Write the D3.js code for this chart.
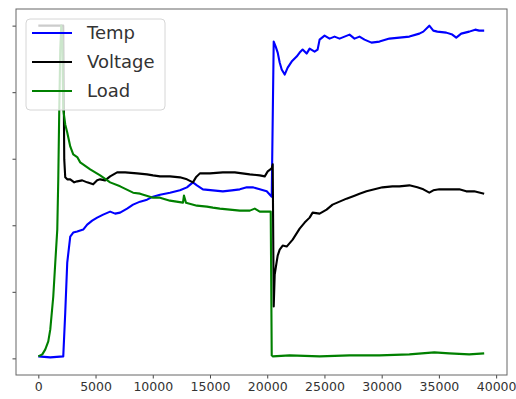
<!DOCTYPE html>
<html>
<head>
<meta charset="utf-8">
<script src="https://cdn.jsdelivr.net/npm/d3@7"></script>
<style>
  html, body { margin: 0; padding: 0; background: #fff; }
  svg { display: block; }
  text { font-family: "DejaVu Sans", sans-serif; }
</style>
</head>
<body>
<svg id="chart" width="516" height="399"></svg>
<script>
// Sample index (x) and normalised readings (y) for each channel
const tempTime = [0, 1046, 2179, 2353, 2527, 2789, 3050, 3399, 3922, 4270, 4706, 5142, 5665, 6275, 6711, 7146, 7756, 8279, 8889, 9499, 10022, 10632, 11504, 12375, 12986, 13508, 13857, 14380, 15251, 16123, 16907, 17604, 18214, 18737, 19347, 19957, 20393, 20567, 20741, 20915, 21089, 21264, 21525, 21787, 22135, 22571, 22833, 23094, 23443, 23705, 24140, 24402, 24577, 25012, 25448, 25884, 26320, 26755, 27191, 27627, 28063, 28499, 29109, 29805, 30677, 31548, 32420, 33291, 33640, 34162, 34511, 34860, 35645, 36168, 36516, 36952, 37649, 38172, 38520, 38956];
const tempValues = [0.006, 0.003, 0.006, 0.138, 0.288, 0.366, 0.378, 0.381, 0.387, 0.402, 0.414, 0.423, 0.432, 0.441, 0.435, 0.438, 0.450, 0.462, 0.471, 0.477, 0.486, 0.492, 0.498, 0.505, 0.514, 0.529, 0.520, 0.508, 0.505, 0.502, 0.505, 0.508, 0.514, 0.514, 0.508, 0.502, 0.486, 0.952, 0.937, 0.919, 0.889, 0.868, 0.853, 0.874, 0.892, 0.907, 0.919, 0.928, 0.916, 0.931, 0.922, 0.928, 0.958, 0.970, 0.961, 0.967, 0.961, 0.967, 0.973, 0.961, 0.967, 0.958, 0.949, 0.952, 0.961, 0.964, 0.967, 0.976, 0.982, 1.000, 0.985, 0.982, 0.979, 0.973, 0.964, 0.976, 0.982, 0.988, 0.985, 0.985];

const voltageTime = [0, 1046, 2179, 2266, 2353, 2527, 2789, 3137, 3399, 3835, 4270, 4793, 5142, 5403, 5839, 6275, 6885, 7582, 8628, 9499, 10022, 10632, 11504, 12375, 12986, 13508, 13770, 14118, 14990, 16123, 17168, 18476, 19347, 19783, 20044, 20393, 20480, 20567, 20654, 20829, 20915, 21089, 21351, 21700, 22223, 22833, 23269, 23705, 23966, 24577, 25187, 25710, 26320, 26930, 27627, 28063, 28673, 29370, 30067, 30939, 31548, 32420, 33117, 33640, 34162, 34511, 35034, 35906, 36778, 37388, 38085, 38956];
const voltageValues = [1.0, 1.0, 1.0, 0.598, 0.544, 0.538, 0.538, 0.529, 0.532, 0.535, 0.529, 0.523, 0.535, 0.538, 0.535, 0.547, 0.559, 0.559, 0.556, 0.553, 0.550, 0.547, 0.547, 0.544, 0.538, 0.529, 0.544, 0.556, 0.556, 0.559, 0.559, 0.553, 0.550, 0.547, 0.562, 0.571, 0.583, 0.156, 0.252, 0.291, 0.309, 0.327, 0.339, 0.336, 0.357, 0.390, 0.408, 0.423, 0.438, 0.435, 0.447, 0.462, 0.471, 0.480, 0.489, 0.495, 0.502, 0.508, 0.514, 0.517, 0.517, 0.520, 0.514, 0.508, 0.498, 0.505, 0.508, 0.508, 0.508, 0.502, 0.502, 0.495];

const loadTime = [0, 349, 610, 871, 1046, 1307, 1482, 1656, 1743, 1830, 1917, 2004, 2092, 2179, 2353, 2527, 2789, 3050, 3399, 3660, 4532, 5403, 6275, 7146, 8279, 8889, 10022, 10632, 11504, 12637, 12724, 12898, 13857, 14728, 15251, 15861, 16733, 17604, 18476, 18911, 19347, 19870, 20306, 20393, 20480, 21962, 24577, 27191, 29805, 32420, 34598, 35906, 37649, 38956];
const loadValues = [0.006, 0.012, 0.027, 0.051, 0.087, 0.186, 0.288, 0.387, 0.538, 0.748, 0.928, 1.0, 0.958, 0.748, 0.703, 0.679, 0.637, 0.613, 0.605, 0.589, 0.568, 0.550, 0.529, 0.517, 0.498, 0.495, 0.483, 0.483, 0.474, 0.468, 0.489, 0.468, 0.459, 0.456, 0.453, 0.450, 0.447, 0.444, 0.444, 0.450, 0.441, 0.441, 0.441, 0.009, 0.006, 0.009, 0.006, 0.009, 0.009, 0.012, 0.018, 0.015, 0.012, 0.015];

const seriesNames = ["Temp", "Voltage", "Load"];
const xTicks = [0, 5000, 10000, 15000, 20000, 25000, 30000, 35000, 40000];
const yTicks = [0, 0.2, 0.4, 0.6, 0.8, 1.0];

const series = [
  { name: seriesNames[0], t: tempTime, v: tempValues, color: "#0000ff" },
  { name: seriesNames[1], t: voltageTime, v: voltageValues, color: "#000000" },
  { name: seriesNames[2], t: loadTime, v: loadValues, color: "#008000" }
];

const svg = d3.select("#chart");
const plot = { left: 16, top: 9, right: 507, bottom: 375 };

const x = d3.scaleLinear().domain([-1950, 40950]).range([plot.left, plot.right]);
const y = d3.scaleLinear().domain([-0.05, 1.05]).range([plot.bottom, plot.top]);

// axes
const xAxis = svg.append("g")
  .attr("transform", `translate(0,${plot.bottom})`)
  .call(d3.axisBottom(x).tickValues(xTicks).tickFormat(d3.format("d")).tickSize(3.5).tickPadding(4));
xAxis.select(".domain").remove();
xAxis.selectAll("line").attr("stroke", "#444");
xAxis.selectAll("text").attr("font-size", 12.5).attr("fill", "#333")
  .attr("font-family", "DejaVu Sans, sans-serif");

const yAxis = svg.append("g")
  .attr("transform", `translate(${plot.left},0)`)
  .call(d3.axisLeft(y).tickValues(yTicks).tickFormat("").tickSize(3.5));
yAxis.select(".domain").remove();
yAxis.selectAll("line").attr("stroke", "#444");

// lines
svg.append("clipPath").attr("id", "plotclip")
  .append("rect")
  .attr("x", plot.left).attr("y", plot.top)
  .attr("width", plot.right - plot.left).attr("height", plot.bottom - plot.top);

const line = d3.line().x(d => x(d[0])).y(d => y(d[1]));
const lines = svg.append("g").attr("clip-path", "url(#plotclip)");
series.forEach(s => {
  lines.append("path")
    .datum(s.t.map((t, i) => [t, s.v[i]]))
    .attr("fill", "none")
    .attr("stroke", s.color)
    .attr("stroke-width", 2.1)
    .attr("stroke-linejoin", "round")
    .attr("d", line);
});

// frame
svg.append("rect")
  .attr("x", plot.left).attr("y", plot.top)
  .attr("width", plot.right - plot.left).attr("height", plot.bottom - plot.top)
  .attr("fill", "none").attr("stroke", "#666").attr("stroke-width", 1);

// legend
const legend = svg.append("g").attr("transform", "translate(26,19)");
legend.append("rect")
  .attr("width", 139).attr("height", 91).attr("rx", 4)
  .attr("fill", "#fff").attr("fill-opacity", 0.8)
  .attr("stroke", "#d6d6d6").attr("stroke-width", 1);
series.forEach((s, i) => {
  const yy = 14 + i * 29;
  legend.append("line")
    .attr("x1", 6).attr("x2", 46).attr("y1", yy).attr("y2", yy)
    .attr("stroke", s.color).attr("stroke-width", 2);
  legend.append("text")
    .attr("x", 61).attr("y", yy).attr("dy", "0.36em")
    .attr("font-size", 18).attr("fill", "#333")
    .text(s.name);
});
</script>
</body>
</html>
